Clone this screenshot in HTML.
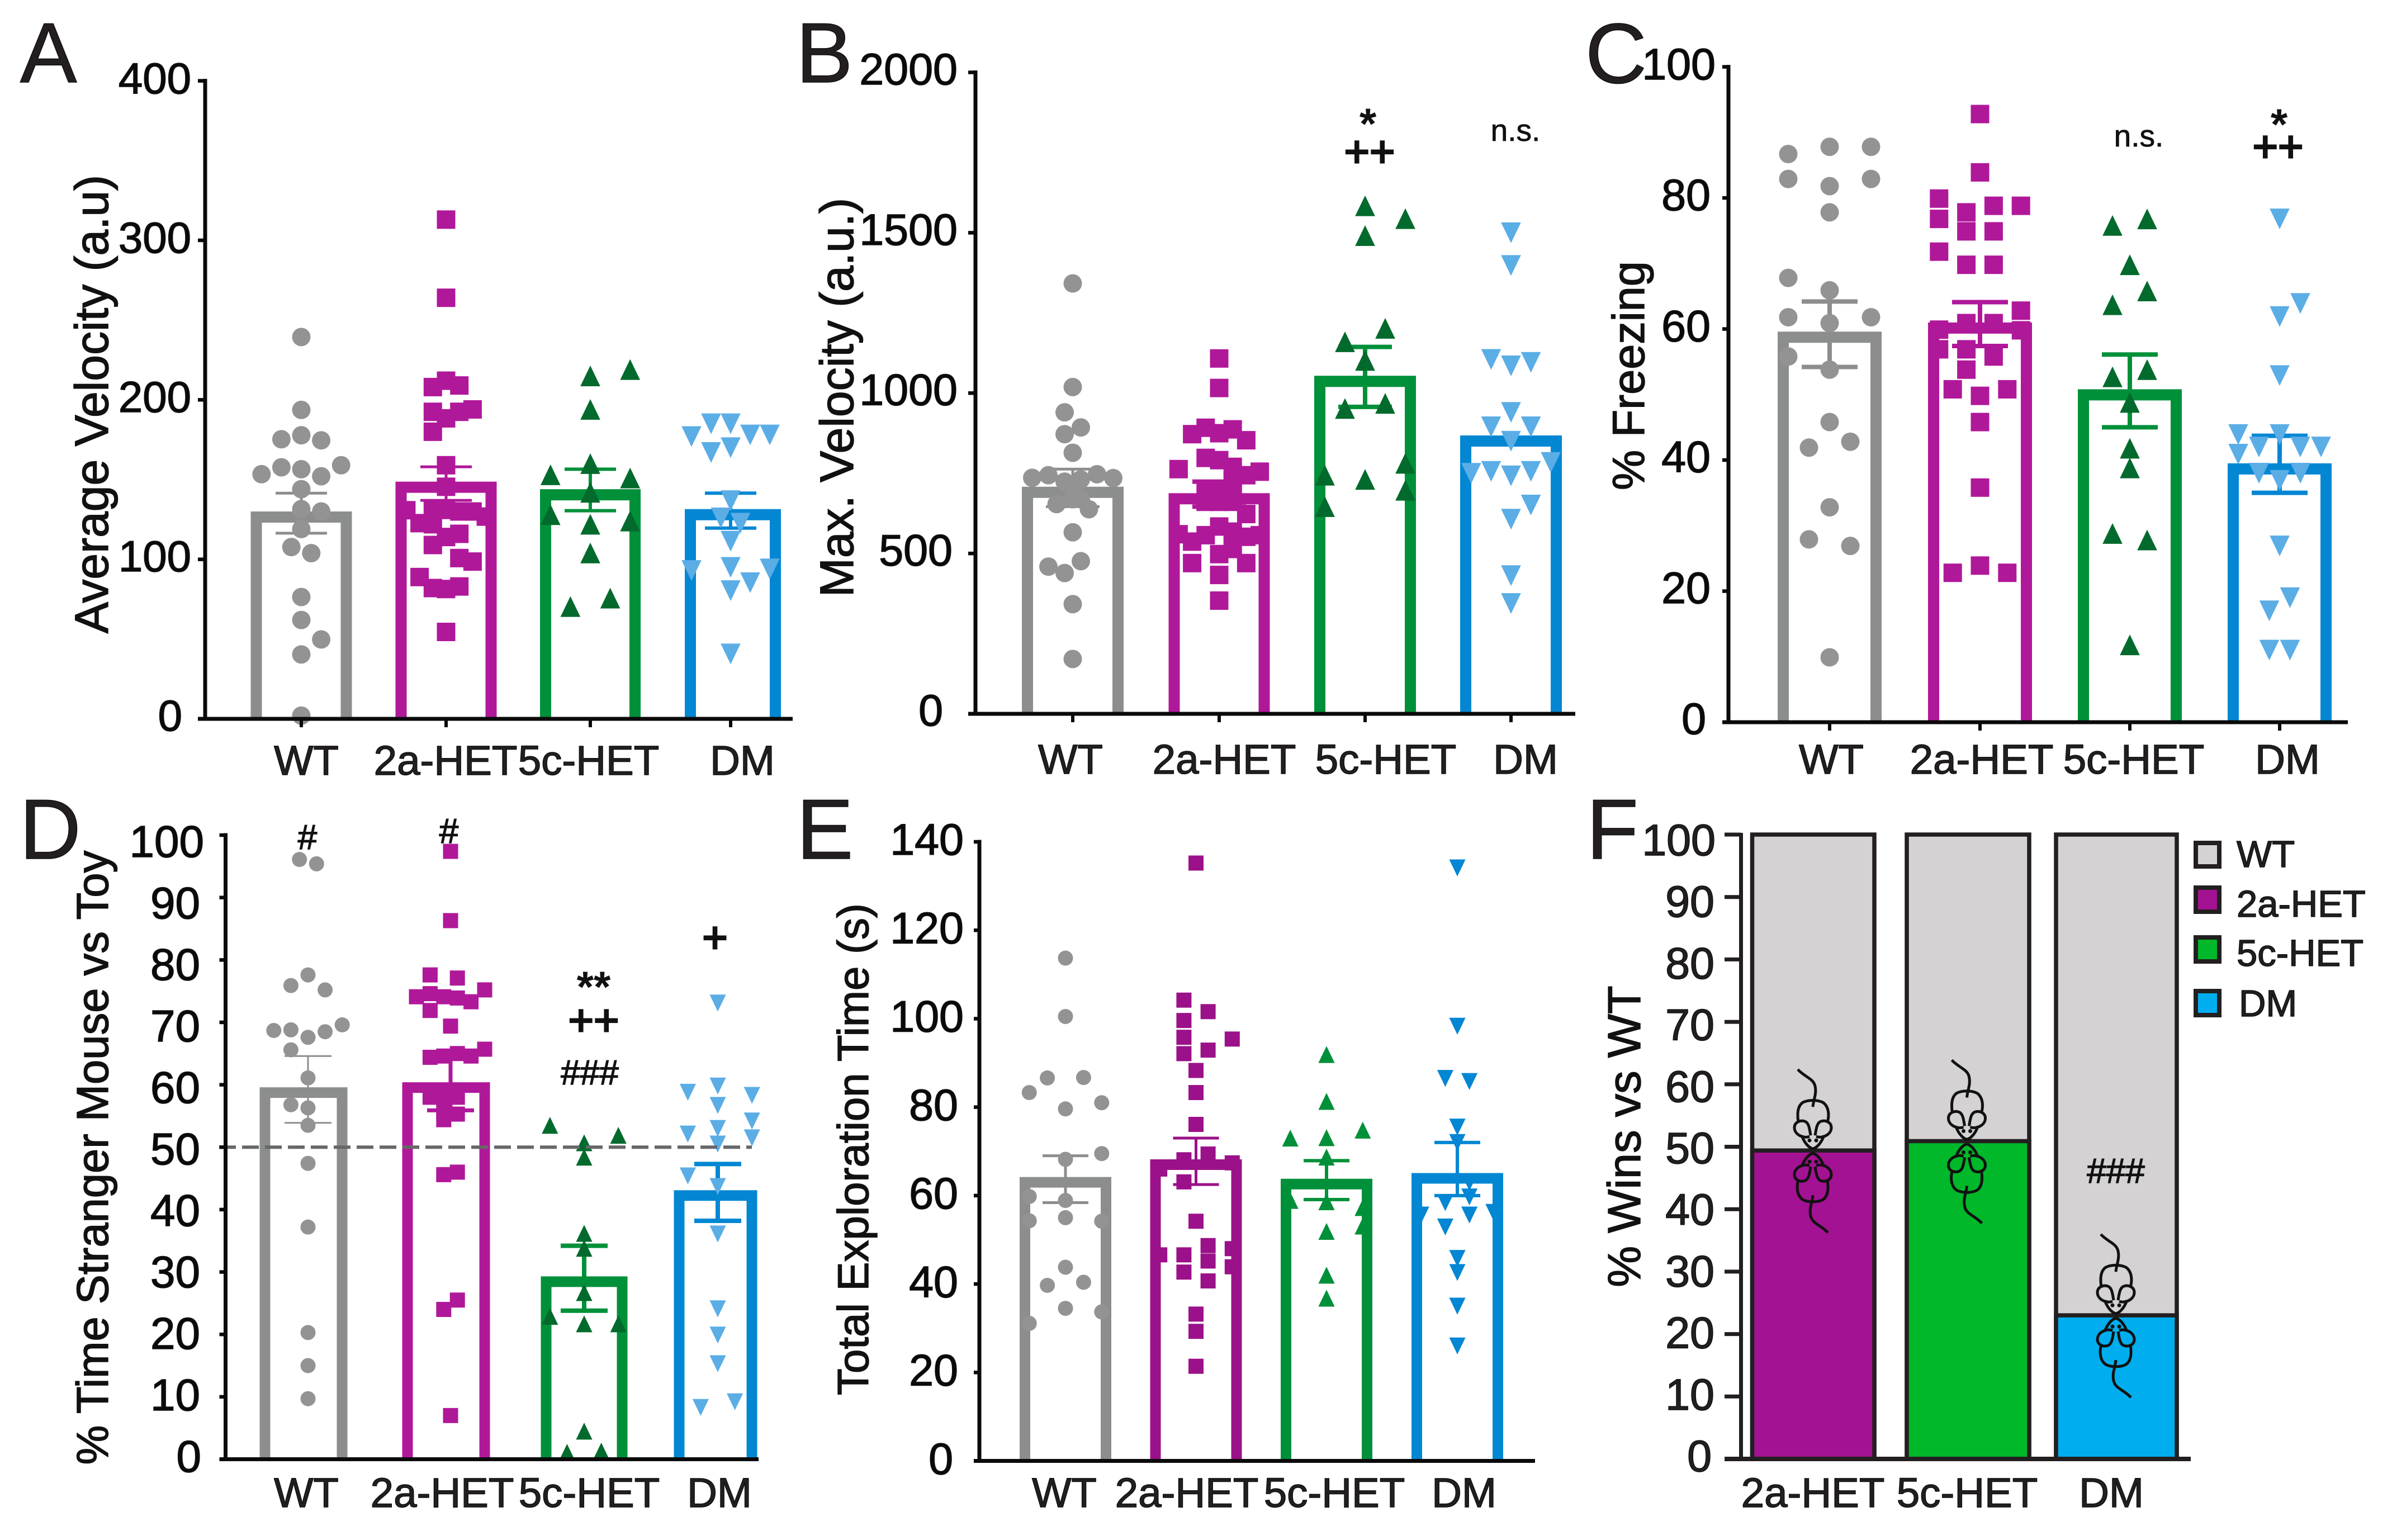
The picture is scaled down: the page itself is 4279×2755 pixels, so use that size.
<!DOCTYPE html>
<html lang="en">
<head>
<meta charset="utf-8">
<title>Behavioural bar charts A-F</title>
<style>
html,body{margin:0;padding:0;background:#fff;}
svg{display:block;font-family:"Liberation Sans",Arial,sans-serif;}
svg text{stroke:#111;stroke-width:1.5px;}
.letter{font-size:152px;fill:#231f20;}
.title{font-size:84px;fill:#111;text-anchor:middle;}
.plus{font-size:78px;fill:#111;text-anchor:middle;stroke-width:3px;}
.star{font-size:78px;font-weight:bold;fill:#111;text-anchor:middle;stroke-width:0;}
.ns{font-size:55px;fill:#111;text-anchor:middle;stroke-width:0.8px;}
.hash{font-size:62px;fill:#111;text-anchor:middle;stroke-width:1.5px;}
.legend-text{font-size:67px;fill:#231f20;}
</style>
</head>
<body>
<svg id="fig" xmlns="http://www.w3.org/2000/svg" width="4279" height="2755" viewBox="0 0 4279 2755">
  <rect x="0" y="0" width="4279" height="2755" fill="#ffffff"/>
  <defs>
    <g id="mouse">
      <path d="M0,0 C-7,-2 -15,-10 -20,-24 M20,-24 C15,-10 7,-2 0,0 M-26,-47 C-28,-62 -28,-76 -18,-83 C-8,-88 8,-88 18,-83 C28,-76 30,-62 26,-47" fill="none" stroke="#111" stroke-width="5"/>
      <path d="M-6,-22 C-18,-18 -33,-26 -33,-38 C-33,-48 -22,-52 -14,-49 C-7,-46 -6,-36 -4,-24" fill="none" stroke="#111" stroke-width="5"/>
      <path d="M6,-22 C18,-18 33,-26 33,-38 C33,-48 22,-52 14,-49 C7,-46 6,-36 4,-24" fill="none" stroke="#111" stroke-width="5"/>
      <circle cx="-6" cy="-15" r="3.5" fill="#111"/>
      <circle cx="6" cy="-15" r="3.5" fill="#111"/>
      <path d="M0,-75 C1,-88 7,-98 4,-112 C1,-126 -14,-128 -27,-142" fill="none" stroke="#111" stroke-width="5"/>
    </g>
  </defs>

  <text class="letter" x="36" y="147">A</text>
  <text class="letter" x="1424" y="147">B</text>
  <text class="letter" x="2836" y="148">C</text>
  <text class="letter" x="35" y="1536">D</text>
  <text class="letter" x="1425" y="1536">E</text>
  <text class="letter" x="2838" y="1536">F</text>

  <text class="title" transform="translate(193,723) rotate(-90)">Average Velocity (a.u)</text>
  <text class="title" transform="translate(1526,711) rotate(-90)">Max. Velocity (a.u.)</text>
  <text class="title" transform="translate(2941,672) rotate(-90)" style="font-size:81px">% Freezing</text>
  <text class="title" transform="translate(193,2071) rotate(-90)" style="font-size:79.5px">% Time Stranger Mouse vs Toy</text>
  <text class="title" transform="translate(1553,2056) rotate(-90)" style="font-size:78px">Total Exploration Time (s)</text>
  <text class="title" transform="translate(2934,2033) rotate(-90)" style="font-size:83px">% Wins vs WT</text>

  <g id="plots"></g>

  <text class="star" x="2447" y="248">*</text>
  <text class="plus" x="2450" y="298">++</text>
  <text class="ns" x="2711" y="252">n.s.</text>
  <text class="ns" x="3826" y="262">n.s.</text>
  <text class="star" x="4077" y="249">*</text>
  <text class="plus" x="4075" y="289">++</text>
  <text class="hash" x="550" y="1519">#</text>
  <text class="hash" x="803" y="1508">#</text>
  <text class="star" x="1062" y="1792">**</text>
  <text class="plus" x="1062" y="1852">++</text>
  <text class="hash" x="1055" y="1940">###</text>
  <text class="plus" x="1279" y="1704">+</text>
  <text class="hash" x="3785" y="2116">###</text>

  <g>
    <rect x="3928" y="1508" width="42" height="42" fill="#d4d2d3" stroke="#231f20" stroke-width="8"/>
    <text class="legend-text" x="4001" y="1551">WT</text>
    <rect x="3928" y="1588" width="42" height="43" fill="#a31292" stroke="#231f20" stroke-width="8"/>
    <text class="legend-text" x="4001" y="1640">2a-HET</text>
    <rect x="3928" y="1677" width="42" height="43" fill="#00b82a" stroke="#231f20" stroke-width="8"/>
    <text class="legend-text" x="4001" y="1728">5c-HET</text>
    <rect x="3928" y="1773" width="42" height="43" fill="#00aeef" stroke="#231f20" stroke-width="8"/>
    <text class="legend-text" x="4005" y="1818">DM</text>
  </g>
</svg>

<script>
const categories = ['WT', '2a-HET', '5c-HET', 'DM'];
const groupKeys = ['wt', '2a-het', '5c-het', 'dm'];

/* Panel A: average velocity */
const aTicks = [0, 100, 200, 300, 400];
const aMeans = [130, 148.7, 144, 131.5];
const aErrHigh = [141.5, 158, 156.5, 141.5];
const aErrLow = [116.4, 137, 130.5, 119.6];
const aWT = [239.4,193.7,177.8,175.3,174.6,159,157.7,156.5,153.4,152.1,144,131.5,130,119,107.7,103.9,76.4,62,49.8,40.4,2];
const aWTSwarm = [0,0,0,-1,1,2,-1,0,-2,1,0,0,1,0,-0.5,0.5,0,0,1,0,0];
const a2a = [313,264,212,208,209,194,192.5,192.5,188.4,180,159,145.5,130.8,130,126.8,130,131,131.5,122.7,122,116,114,109,100.8,98.6,88.9,82,81.4,83,54.5];
const a2aSwarm = [0,0,0,-1,1,2,1,-1,0,-1,0,0,-3,2,3,1,0,-1,-2,-1,1,0,-1,1,2,-2,-1,0,1,0];
const a5c = [215,219,194,160,153,151,142,128,124,122,104,75.7,70.4];
const a5cSwarm = [0,2,0,0,-2,2,0,-2,2,0,0,1,-1];
const aDM = [185,185,178,178,177,170,167,136.8,126,122.7,111.4,93,95,94,85.4,80.4,40.7];
const aDMSwarm = [0,-1,1,2,-2,0,-1,0,-0.5,0.5,0,-2,0,2,1,0,0];

/* Panel B: maximum velocity */
const bTicks = [0, 500, 1000, 1500, 2000];
const bMeans = [708, 688, 1054, 868];
const bErrHigh = [763, 724, 1144, null];
const bErrLow = [646, 646, 957, null];
const bWT = [1342,1019,940,893,872,814,736,744,747,735,724,731,708,654,669,669,638,566,476,459,439,342,171];
const bWTSwarm = [0,0,-0.5,0.5,-0.5,0,-2.5,-1.5,1.5,2.5,-0.5,0.5,0,-1,0,0.5,1,0,0.5,-1.5,-0.5,0,0];
const b2a = [1108,1016,892,887,872,875,853,763,798,791,770,755,744,728,693,693,693,661,661,661,623,584,560,568,557,537,552,557,470,498,514,470,433,353];
const b2aSwarm = [0,0,-1,1,-2,0,2,-3,-1,0,1,3,2,1,-1,0,1,-1,0,1,2,0,-3,1,-1,-2,2,3,-2,0,1,2,0,0];
const b5c = [1584,1544,1491,1202,1160,1102,952,968,744,781,731,697,646];
const b5cSwarm = [0,2,0,1,-1,0,-1,1,-2,2,0,2,-2];
const bDM = [1500,1398,1105,1096,1085,940,895,895,850,784,756,756,742,750,651,607,431,344];
const bDMSwarm = [0,0,-1,1,0,0,-1,1,0,2,-1,1,0,-2,1,0,0,0];

/* Panel C: freezing */
const cTicks = [0, 20, 40, 60, 80, 100];
const cMeans = [59.6, 61, 50.8, 39.5];
const cErrHigh = [64.2, 64.1, 56.1, 43.7];
const cErrLow = [54.2, 57.4, 45, 35];
const cWT = [86.7,87.8,87.8,82.9,82.9,81.8,77.8,67.8,65.9,61.8,61.8,60.9,55.8,53.8,45.8,42.8,41.9,32.8,27.9,26.9,9.9];
const cWTSwarm = [-2,0,2,-2,2,0,0,-2,0,-2,2,0,-2,0,0,1,-1,0,-1,1,0];
const c2a = [92.8,83.9,79.9,78.8,78.8,77.8,76.8,74.9,74.9,71.8,69.8,69.8,62.8,60.9,60.9,59.9,59.8,56.9,56.9,55.8,53.8,50.8,50.8,49.8,45.8,35.8,23.9,22.8,22.8];
const c2aSwarm = [0,0,-3,3,1,-1,-3,-1,1,-3,-1,1,3,-1,1,-3,3,-3,-1,1,-1,-2,2,0,0,0,0,-2,2];
const c5c = [75.8,76.8,69.8,65.8,63.7,53.8,52.7,48.8,41.8,38.8,28.8,27.8,11.8];
const c5cSwarm = [-1,1,0,1,-1,1,-1,0,0,0,-1,1,0];
const cDM = [76.8,63.9,61.9,52.9,43.9,43.9,42,42,42,40.9,38,38,36.9,26.9,19,17,11,11];
const cDMSwarm = [0,1,0,0,-2,0,-1,1,2,-2,-1,1,0,0,0.5,-0.5,-0.5,0.5];

/* Panel D: time with stranger mouse */
const dTicks = [0, 10, 20, 30, 40, 50, 60, 70, 80, 90, 100];
const dChance = [50];
const dMeans = [59.6, 60.4, 29.3, 43.1];
const dErrHigh = [64.6, 64.6, 34.2, 47.3];
const dErrLow = [53.9, 55.9, 23.8, 38.2];
const dWT = [96.1,95.4,77.6,75.9,75.2,69.6,68.7,68.8,68.5,67.6,65.6,61.1,56.8,56.3,53.5,47.4,37.2,20.3,15,9.7];
const dWTSwarm = [-0.5,0.5,0,-1,1,2,-2,-1,1,0,-1,0,-1,0,0,0,0,0,0,0];
const d2a = [97.4,86.3,77.6,77.1,75.2,74.6,74.1,74.1,73.9,73.3,71.9,69.4,65.7,65,64.6,64.4,64.6,58,58,58,55.7,55.3,54.4,46,45.6,25.5,24,7];
const d2aSwarm = [0,0,-1.5,0.5,2.5,-1.5,-2.5,-0.5,0.5,1.5,-1.5,0,2.5,0.5,-0.5,-1.5,1.5,-1.5,-0.5,0.5,-0.5,0.5,-0.5,0.5,-0.5,0.5,-0.5,0];
const d5c = [53.5,51.9,50.7,48.4,36.2,33.8,26.7,22.9,21.7,21.7,4.5,1.3,1.1];
const d5cSwarm = [-2,2,0,0,0,0,0,-2,0,2,0,1,-1];
const dDM = [73.1,59.8,58.8,58.3,56.7,54.2,52.1,53,51.5,50.5,45.4,43.7,36.1,24.1,19.9,15.3,9.2,8.3];
const dDMSwarm = [0,0,-1.75,2,0,2,-1.75,0,2,0,-1.75,0,0,0,0,0,1,-1];

/* Panel E: total exploration time */
const eTicks = [0, 20, 40, 60, 80, 100, 120, 140];
const eMeans = [64.2, 68.2, 63.8, 65.1];
const eErrHigh = [69, 73, 67.9, 72];
const eErrLow = [58.4, 62.5, 59.1, 60];
const eWT = [113.7,100.5,86.6,86.7,83.3,81,79.6,68.2,69.5,59.8,58.9,55,54.3,54.2,43.8,39.7,40.4,34.5,33.7,31.1];
const eWTSwarm = [0,0,-1,1,-2,2,0,0,2,-2,0,0,-2,2,0,-1,1,0,2,-2];
const e2a = [135.2,104.2,101.6,99.6,95.8,95.4,92.9,92.1,88.3,83.3,76.1,68.1,69.4,67.4,66,63.1,54.2,48.7,48,46.6,46.6,45.2,43.9,42.7,40.7,33.2,29.3,21.4];
const e2aSwarm = [0,-1,1,-1,-1,3,1,-1,0,0,0,-1,1,3,-3,-1,0,1,3,-3,-1,1,3,-1,1,0,0,0];
const e5c = [91.9,81.3,74.8,73,73.1,68.7,58.6,58.9,57.3,53.1,51.9,42,36.8];
const e5cSwarm = [0,0,2,-2,0,0,0,-2,2,2,0,0,0];
const eDM = [134.1,98.3,86.5,85.8,75.5,72,63,59.7,58.4,55.6,56.2,55.6,52.9,45.8,42.6,35,26];
const eDMSwarm = [0,0,-1,1,0,0,1,1,-1,-3,3,1,-1,0,0,0,0];

/* Panel F: tube-test wins */
const fCategories = ['2a-HET', '5c-HET', 'DM'];
const fKeys = ['2a-het', '5c-het', 'dm'];
const fTicks = [0, 10, 20, 30, 40, 50, 60, 70, 80, 90, 100];
const fWins = [49.4, 50.9, 23];

const svgNS = 'http://www.w3.org/2000/svg';
const plots = document.getElementById('plots');

function make(tag, attrs, parent) {
  const el = document.createElementNS(svgNS, tag);
  for (const k in attrs) el.setAttribute(k, attrs[k]);
  parent.appendChild(el);
  return el;
}

const barColors = ['#8c8e8d', '#b0189a', '#00903a', '#0387d3'];
const markColors = ['#939393', '#b0189a', '#026a2c', '#5bade6'];

const layouts = [
  {key:'a', axisX:367, y0:1286, yTop:144.6, vMax:400, ticks:aTicks, tickLen:13, baseEnd:1418,
   barX:[539,798,1056,1311], swarmX:[539,798,1056,1307], barW:[181,181,180,172], sw:20,
   slot:[35.6,23.7,35.6,35], mark:33, labelX:[548,797,1053,1328], labelY:1386,
   right:{1:326,3:342}, base0:1307, baseTop:167, font:78, xTick:true,
   means:aMeans, hi:aErrHigh, lo:aErrLow, errW:[5,5,6,6], cap:46,
   vals:[aWT,a2a,a5c,aDM], swarm:[aWTSwarm,a2aSwarm,a5cSwarm,aDMSwarm]},
  {key:'b', axisX:1745, y0:1277, yTop:129.5, vMax:2000, ticks:bTicks, tickLen:13, baseEnd:2818,
   barX:[1919,2181,2442,2703], swarmX:[1919,2181,2442,2703], barW:[182,181,182,182], sw:20,
   slot:[29,24.2,36,35.6], mark:33, labelX:[1915,2190,2479,2729], labelY:1384,
   right:{1:1687,3:1704,4:1713}, base0:1298, baseTop:151, font:79, xTick:true,
   means:bMeans, hi:bErrHigh, lo:bErrLow, errW:[5,8,8,8], cap:48,
   vals:[bWT,b2a,b5c,bDM], swarm:[bWTSwarm,b2aSwarm,b5cSwarm,bDMSwarm]},
  {key:'c', axisX:3092, y0:1292, yTop:119.6, vMax:100, ticks:cTicks, tickLen:11, baseEnd:4200,
   barX:[3273,3542,3810,4078], swarmX:[3273,3542,3810,4078], barW:[186,186,186,186], sw:20,
   slot:[37,24.4,31,37], mark:33, labelX:[3276,3545,3817,4092], labelY:1384,
   right:{1:3052,2:3060,3:3069}, base0:1313, baseTop:142, font:79, xTick:true,
   means:cMeans, hi:cErrHigh, lo:cErrLow, errW:[8,8,8,8], cap:50,
   vals:[cWT,c2a,c5c,cDM], swarm:[cWTSwarm,c2aSwarm,c5cSwarm,cDMSwarm]},
  {key:'d', axisX:403.5, y0:2610.5, yTop:1494, vMax:100, ticks:dTicks, tickLen:11, baseEnd:1357,
   barX:[543,798,1045,1280], swarmX:[551,806,1045,1284], barW:[157,157,155,149], sw:19,
   slot:[30.6,24.4,30.6,30.6], mark:27, labelX:[548,791,1054,1287], labelY:2696,
   right:{1:360,2:358,3:365}, base0:2633, baseTop:1533, font:80, xTick:false,
   means:dMeans, hi:dErrHigh, lo:dErrLow, errW:[3,7,8,8], cap:42,
   vals:[dWT,d2a,d5c,dDM], swarm:[dWTSwarm,d2aSwarm,d5cSwarm,dDMSwarm]},
  {key:'e', axisX:1752, y0:2613.5, yTop:1506, vMax:140, ticks:eTicks, tickLen:10, baseEnd:2746,
   barX:[1906,2139.5,2373,2607], swarmX:[1906,2139.5,2373,2607], barW:[164,164,164,164], sw:19,
   slot:[32.4,21.6,32.4,21.6], mark:27, labelX:[1904,2123,2387,2619], labelY:2696,
   right:{1:1705,2:1714,3:1724}, base0:2637, baseTop:1529, font:79, xTick:false,
   means:eMeans, hi:eErrHigh, lo:eErrLow, errW:[5,5,6,6], cap:41,
   bars:['#8c8e8d','#9b1189','#00903a','#0387d3'], marks:['#939393','#9b1189','#00903a','#0386d3'],
   vals:[eWT,e2a,e5c,eDM], swarm:[eWTSwarm,e2aSwarm,e5cSwarm,eDMSwarm]}
];

function markShape(groupIndex, cx, cy, size, color, parent) {
  const r = size / 2;
  if (groupIndex === 0) return make('circle', {cx:cx, cy:cy, r:r, fill:color}, parent);
  if (groupIndex === 1) return make('rect', {x:cx-r, y:cy-r, width:size, height:size, fill:color}, parent);
  const w = r * 1.08, h = r * 1.12;
  const d = groupIndex === 2
    ? `M${cx},${cy-h} L${cx+w},${cy+h} L${cx-w},${cy+h} Z`
    : `M${cx-w},${cy-h} L${cx+w},${cy-h} L${cx},${cy+h} Z`;
  return make('path', {d:d, fill:color}, parent);
}

layouts.forEach(function (p) {
  const g = make('g', {}, plots);
  
  
  const yScale = v => p.y0 - (v / p.vMax) * (p.y0 - p.yTop);
  const bars = p.bars || barColors;
  const marks = p.marks || markColors;

  /* bars */
  p.means.forEach(function (m, i) {
    const half = p.barW[i] / 2 - p.sw / 2;
    const top = yScale(m) + p.sw / 2;
    const bar = make('path', {d:`M${p.barX[i]-half},${p.y0} V${top} H${p.barX[i]+half} V${p.y0}`, fill:'none', stroke:bars[i], 'stroke-width':p.sw}, g);
    
    
  });

  /* error bars */
  p.means.forEach(function (m, i) {
    if (p.hi[i] === null) return;
    const yh = yScale(p.hi[i]), yl = yScale(p.lo[i]), cx = p.swarmX[i];
    const err = make('path', {d:`M${cx},${yh} V${yl} M${cx-p.cap},${yh} H${cx+p.cap} M${cx-p.cap},${yl} H${cx+p.cap}`, fill:'none', stroke:bars[i], 'stroke-width':p.errW[i]}, g);
    
    
  });

  /* points */
  p.vals.forEach(function (series, i) {
    series.forEach(function (v, j) {
      const pt = markShape(i, p.swarmX[i] + p.swarm[i][j] * p.slot[i], yScale(v), p.mark, marks[i], g);
      
      
    });
  });

  /* chance line in panel D */
  if (p.key === 'd') {
    const dash = make('line', {x1:392, x2:1345, y1:yScale(dChance[0]), y2:yScale(dChance[0]), stroke:'#666769', 'stroke-width':6, 'stroke-dasharray':'30 11'}, g);
    
    
  }

  /* axes */
  const left = p.axisX - p.tickLen;
  const yAxis = make('line', {x1:p.axisX, x2:p.axisX, y1:yScale(p.vMax)-3.5, y2:p.y0+3.5, stroke:'#0a0a0a', 'stroke-width':7}, g);
  
  
  const xAxis = make('line', {x1:left, x2:p.baseEnd, y1:p.y0, y2:p.y0, stroke:'#0a0a0a', 'stroke-width':7}, g);
  
  

  p.ticks.forEach(function (t, i) {
    const ty = yScale(t);
    const tick = make('line', {x1:left, x2:p.axisX, y1:ty, y2:ty, stroke:'#0a0a0a', 'stroke-width':6.5}, g);
    
    
    const label = String(t);
    const frac = i / (p.ticks.length - 1);
    const txt = make('text', {x:p.right[label.length], y:p.base0 + frac * (p.baseTop - p.base0), 'text-anchor':'end', 'font-size':p.font, fill:'#0a0a0a'}, g);
    txt.textContent = label;
    
    
  });

  categories.forEach(function (c, i) {
    if (p.xTick) {
      const tick = make('line', {x1:p.swarmX[i], x2:p.swarmX[i], y1:p.y0, y2:p.y0+15, stroke:'#0a0a0a', 'stroke-width':6}, g);
      
      
    }
    const txt = make('text', {x:p.labelX[i], y:p.labelY, 'text-anchor':'middle', 'font-size':74.5, fill:'#231f20'}, g);
    txt.textContent = c;
    
    
  });
});

/* Panel F: stacked bars */
(function () {
  const g = make('g', {}, plots);
  
  
  const y0 = 2610, yTop = 1493, axisX = 3114.5;
  const yScale = v => y0 - (v / 100) * (y0 - yTop);
  const slotLeft = [3134.5, 3411, 3678];
  const slotWidth = [218.5, 219, 216];
  const fills = ['#a31292', '#00b82a', '#00aeef'];
  const mouseX = [3243, 3518.5, 3785];
  const labelX = [3243, 3519, 3777];

  fWins.forEach(function (w, i) {
    const top = make('rect', {x:slotLeft[i], y:yTop, width:slotWidth[i], height:y0-yTop, fill:'#d4d2d3', stroke:'#231f20', 'stroke-width':7.5}, g);
    
    
    const low = make('rect', {x:slotLeft[i], y:yScale(w), width:slotWidth[i], height:y0-yScale(w), fill:fills[i], stroke:'#231f20', 'stroke-width':7.5}, g);
    
    
    const upper = make('use', {href:'#mouse', transform:`translate(${mouseX[i]},${yScale(w)-3})`}, g);
    
    
    const lower = make('use', {href:'#mouse', transform:`translate(${mouseX[i]},${yScale(w)+5}) rotate(180)`}, g);
    
    
    const txt = make('text', {x:labelX[i], y:2696, 'text-anchor':'middle', 'font-size':74.5, fill:'#231f20'}, g);
    txt.textContent = fCategories[i];
    
    
  });

  const yAxis = make('line', {x1:axisX, x2:axisX, y1:yTop-3, y2:y0+4, stroke:'#231f20', 'stroke-width':7}, g);
  
  
  const xAxis = make('line', {x1:3085, x2:3919, y1:y0, y2:y0, stroke:'#231f20', 'stroke-width':8}, g);
  
  

  const rightEdge = {1:3062, 2:3067, 3:3069};
  fTicks.forEach(function (t, i) {
    const ty = yScale(t);
    const tick = make('line', {x1:3085, x2:axisX, y1:ty, y2:ty, stroke:'#231f20', 'stroke-width':7}, g);
    
    
    const label = String(t);
    const frac = i / (fTicks.length - 1);
    const txt = make('text', {x:rightEdge[label.length], y:2632 + frac * (1530 - 2632), 'text-anchor':'end', 'font-size':79, fill:'#231f20'}, g);
    txt.textContent = label;
    
    
  });
})();
</script>
</body>
</html>
